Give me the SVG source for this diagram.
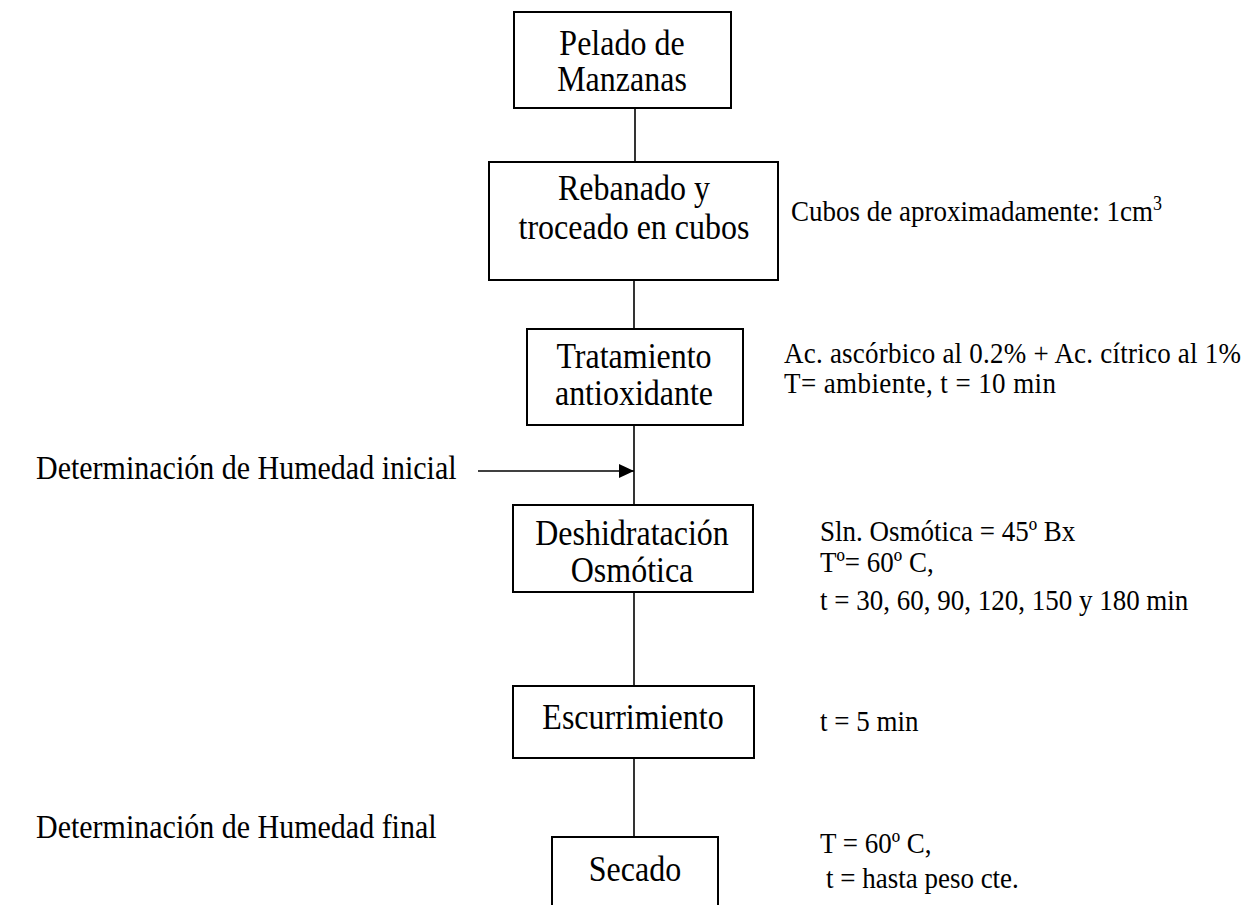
<svg xmlns="http://www.w3.org/2000/svg" width="1243" height="905" viewBox="0 0 1243 905">
<style>
  .box { fill: #ffffff; stroke: #000000; stroke-width: 2; }
  .bt { font-family: "Liberation Serif", "Times New Roman", serif; font-size: 32px; fill: #000; text-anchor: middle; }
  .nt { font-family: "Liberation Serif", "Times New Roman", serif; font-size: 27px; fill: #000; }
  .lt { font-family: "Liberation Serif", "Times New Roman", serif; font-size: 30px; fill: #000; }
  .conn { stroke: #000; stroke-width: 1.6; fill: none; }
</style>
<defs>
  <marker id="arrow" markerWidth="15" markerHeight="14" refX="15" refY="7" orient="auto" markerUnits="userSpaceOnUse" viewBox="0 0 15 14">
    <path d="M0,0 L15,7 L0,14 Z" fill="#000"/>
  </marker>
</defs>
<rect width="1243" height="905" fill="#ffffff"/>
<g id="connectors">
  <line class="conn" x1="635" y1="108" x2="635" y2="162"/>
  <line class="conn" x1="634" y1="280" x2="634" y2="329"/>
  <line class="conn" x1="634" y1="425" x2="634" y2="505"/>
  <line class="conn" x1="634" y1="592" x2="634" y2="686"/>
  <line class="conn" x1="634" y1="758" x2="634" y2="837"/>
  <line class="conn" x1="478" y1="471" x2="634" y2="471" marker-end="url(#arrow)"/>
</g>
<g id="n1">
  <rect class="box" x="514" y="12" width="217" height="96"/>
  <text class="bt" transform="translate(622,55) scale(1,1.12)">Pelado de</text>
  <text class="bt" transform="translate(622,91) scale(1,1.12)">Manzanas</text>
</g>
<g id="n2">
  <rect class="box" x="489" y="162" width="289" height="118"/>
  <text class="bt" transform="translate(634,200) scale(1,1.12)">Rebanado y</text>
  <text class="bt" transform="translate(634,239) scale(1,1.12)">troceado en cubos</text>
</g>
<g id="n3">
  <rect class="box" x="527" y="329" width="216" height="96"/>
  <text class="bt" transform="translate(634,368) scale(1,1.12)">Tratamiento</text>
  <text class="bt" transform="translate(634,405) scale(1,1.12)">antioxidante</text>
</g>
<g id="n4">
  <rect class="box" x="513" y="505" width="240" height="87"/>
  <text class="bt" transform="translate(632,545) scale(1,1.12)">Deshidratación</text>
  <text class="bt" transform="translate(632,582) scale(1,1.12)">Osmótica</text>
</g>
<g id="n5">
  <rect class="box" x="513" y="686" width="241" height="72"/>
  <text class="bt" transform="translate(633,729) scale(1,1.12)">Escurrimiento</text>
</g>
<g id="n6">
  <rect class="box" x="552" y="837" width="166" height="80"/>
  <text class="bt" transform="translate(635,881) scale(1,1.12)">Secado</text>
</g>
<g id="notes">
  <text class="nt" font-size="28.5" transform="translate(791,221) scale(1,1.12)">Cubos de aproximadamente: 1cm<tspan font-size="18" dy="-10">3</tspan></text>
  <text class="nt" font-size="26" transform="translate(784,363) scale(1,1.06)" textLength="457">Ac. ascórbico al 0.2% + Ac. cítrico al 1%</text>
  <text class="nt" font-size="26" transform="translate(784,393) scale(1,1.06)" textLength="272">T= ambiente, t = 10 min</text>
  <text class="lt" transform="translate(36,479) scale(1,1.12)">Determinación de Humedad inicial</text>
  <text class="nt" transform="translate(820,541) scale(1,1.12)">Sln. Osmótica = 45º Bx</text>
  <text class="nt" transform="translate(820,572) scale(1,1.12)">Tº= 60º C,</text>
  <text class="nt" transform="translate(820,610) scale(1,1.12)">t = 30, 60, 90, 120, 150 y 180 min</text>
  <text class="nt" transform="translate(820,731) scale(1,1.12)">t = 5 min</text>
  <text class="lt" transform="translate(36,838) scale(1,1.12)">Determinación de Humedad final</text>
  <text class="nt" transform="translate(820,853) scale(1,1.12)">T = 60º C,</text>
  <text class="nt" transform="translate(826,888) scale(1,1.12)">t =  hasta peso cte.</text>
</g>
</svg>
